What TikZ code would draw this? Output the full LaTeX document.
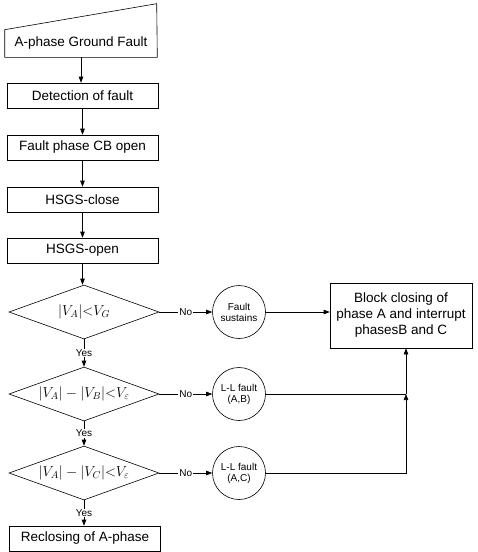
\documentclass[tikz,border=0pt]{standalone}
\usepackage{fontspec}
\setmainfont{Liberation Sans}
\usetikzlibrary{shapes.geometric}
\usetikzlibrary{arrows.meta}

\begin{document}
\begin{tikzpicture}[
        x=1pt, y=-1pt, line width=0.6pt,
        tip/.style={-{Triangle[length=6pt, width=4.5pt]}},
        stepbox/.style={draw, minimum width=151pt, minimum height=25pt, inner sep=0pt,
                font=\fontsize{13.5}{15}\selectfont},
        test/.style={draw, diamond, aspect=3, minimum width=150pt, minimum height=54pt,
                inner sep=0pt, font=\fontsize{14}{16}\selectfont},
        fault/.style={draw, circle, minimum size=53pt, inner sep=0pt, align=center,
                font=\fontsize{10}{11}\selectfont},
        lbl/.style={fill=white, inner sep=1pt, font=\fontsize{10}{11}\selectfont} ]

    \useasboundingbox (0,0) rectangle (477,552);

    \node[minimum width=152pt, minimum height=27pt, inner sep=0pt,
        font=\fontsize{13.5}{15}\selectfont] (ground) at (81,43.5) {A-phase Ground Fault};
    \draw (ground.south west) -- (ground.north west) -- ++(152,-26) -- (ground.south east) -- cycle;

    \node[stepbox] (detect) at (82.5,95.5) {Detection of fault};
    \node[stepbox] (cbopen) at (82.5,147.5) {Fault phase CB open};
    \node[stepbox] (hsclose) at (82.5,199.5) {HSGS-close};
    \node[stepbox] (hsopen) at (82.5,250.5) {HSGS-open};

    \node[test] (testG) at (84,312) {$|V_A|{<}V_G$};
    \node[test] (testAB) at (84,394) {$|V_A|-|V_B|{<}V_\varepsilon$};
    \node[test] (testAC) at (84,473) {$|V_A|-|V_C|{<}V_\varepsilon$};
    \node[stepbox] (reclose) at (85,538.5) {Reclosing of A-phase};

    \node[fault] (sustain) at (239,312) {Fault\\sustains};
    \node[fault] (faultAB) at (239,394) {L-L fault\\(A,B)};
    \node[fault] (faultAC) at (239,473) {L-L fault\\(A,C)};

    \node[draw, minimum width=142pt, minimum height=65pt, inner sep=0pt, align=center,
        font=\fontsize{13.5}{16}\selectfont] (block) at (401,315.5)
        {Block closing of\\phase A and interrupt\\phasesB and C};
    \coordinate (jn) at (406,394);

    \foreach \a/\b in {ground/detect, detect/cbopen, cbopen/hsclose, hsclose/hsopen, hsopen/testG}
        \draw[tip] (\a.south) -- (\a.south |- \b.north);

    \foreach \a/\b in {testG/testAB, testAB/testAC, testAC/reclose}
        \draw[tip] (\a.south) -- node[lbl] {Yes} (\a.south |- \b.north);

    \foreach \a/\b in {testG/sustain, testAB/faultAB, testAC/faultAC}
        \draw[tip] (\a.east) -- node[lbl] {No} (\b.west);

    \draw[tip] (sustain.east) -- (sustain.east -| block.west);
    \draw (faultAB.east) -- (jn);
    \draw[tip] (faultAC.east) -| (jn);
    \draw[tip] (jn) -- (jn |- block.south);

\end{tikzpicture}
\end{document}
